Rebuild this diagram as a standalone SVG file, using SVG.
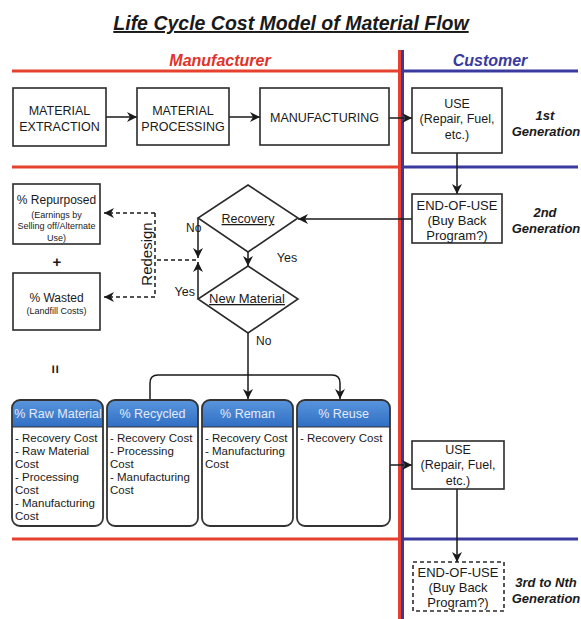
<svg xmlns="http://www.w3.org/2000/svg" width="581" height="619" viewBox="0 0 581 619">
<style>
text{font-family:"Liberation Sans",Arial,sans-serif;fill:#1a1a1a}
.bx{fill:#fff;stroke:#2b2b2b;stroke-width:1.6}
.dbx{fill:#fff;stroke:#2b2b2b;stroke-width:1.6;stroke-dasharray:4 3}
.c{fill:none;stroke:#1a1a1a;stroke-width:1.5}
.d{fill:none;stroke:#1a1a1a;stroke-width:1.5;stroke-dasharray:4 3}
.t{font-size:12.5px;text-anchor:middle}
.gen{font-size:13px;font-weight:bold;font-style:italic;text-anchor:middle}
.hd{font-size:12.5px;fill:#e4eaf8;text-anchor:middle}
.bd{font-size:11.5px}
.red{stroke:#e6402e;stroke-width:3}
.blue{stroke:#3a3a9e;stroke-width:3}
.card{fill:#fff;stroke:#333;stroke-width:1.8}
.hdr{fill:url(#hg)}
</style>
<defs>
<marker id="ah" markerUnits="userSpaceOnUse" markerWidth="10" markerHeight="10" refX="10" refY="5" orient="auto">
<path d="M0,0 L10,5 L0,10 L3,5 z" fill="#1a1a1a"/>
</marker>
<linearGradient id="hg" x1="0" y1="0" x2="0" y2="1">
<stop offset="0" stop-color="#5a95dc"/>
<stop offset="1" stop-color="#2f6fc4"/>
</linearGradient>
<clipPath id="cr"><rect x="13" y="401" width="89" height="26"/></clipPath>
</defs>

<g id="title">
<text x="291" y="30" style="font-size:19.5px;font-weight:bold;font-style:italic;text-decoration:underline" text-anchor="middle">Life Cycle Cost Model of Material Flow</text>
</g>

<g id="lanes">
<line class="red" x1="12" y1="71" x2="399" y2="71"/>
<line class="blue" x1="403" y1="71" x2="578" y2="71"/>
<line class="red" x1="12" y1="167" x2="399" y2="167"/>
<line class="blue" x1="403" y1="167" x2="578" y2="167"/>
<line class="red" x1="12" y1="539" x2="399" y2="539"/>
<line class="blue" x1="403" y1="539" x2="578" y2="539"/>
<line class="red" x1="399.5" y1="50" x2="399.5" y2="619"/>
<line class="blue" x1="402.5" y1="50" x2="402.5" y2="619"/>
<text x="220" y="66" style="font-size:16px;font-weight:bold;font-style:italic;fill:#e03328" text-anchor="middle">Manufacturer</text>
<text x="490" y="66" style="font-size:16px;font-weight:bold;font-style:italic;fill:#3a3a9e" text-anchor="middle">Customer</text>
</g>

<g id="connectors">
<line class="c" x1="106" y1="117" x2="137" y2="117" marker-end="url(#ah)"/>
<line class="c" x1="229" y1="117" x2="260" y2="117" marker-end="url(#ah)"/>
<line class="c" x1="389" y1="118" x2="412" y2="118" marker-end="url(#ah)"/>
<line class="c" x1="457" y1="153" x2="457" y2="194" marker-end="url(#ah)"/>
<line class="c" x1="412" y1="219" x2="298" y2="219" marker-end="url(#ah)"/>
<line class="c" x1="248" y1="252" x2="248" y2="266" marker-end="url(#ah)"/>
<line class="c" x1="198" y1="218" x2="198" y2="258" marker-end="url(#ah)"/>
<line class="c" x1="198" y1="299" x2="198" y2="262" marker-end="url(#ah)"/>
<path class="d" d="M196,260 H155"/>
<path class="d" d="M155,213 V297"/>
<path class="d" d="M155,213 H104" marker-end="url(#ah)"/>
<path class="d" d="M155,297 H104" marker-end="url(#ah)"/>
<line class="c" x1="248" y1="333" x2="248" y2="399" marker-end="url(#ah)"/>
<path class="c" d="M150,399 V383 Q150,375 158,375 H332 Q340,375 340,383 V399" marker-start="url(#ah)" marker-end="url(#ah)"/>
<line class="c" x1="390" y1="465" x2="412" y2="465" marker-end="url(#ah)"/>
<line class="c" x1="457" y1="489" x2="457" y2="562" marker-end="url(#ah)"/>
<text x="186" y="232" style="font-size:12px">No</text>
<text x="287" y="262" style="font-size:12.5px" text-anchor="middle">Yes</text>
<text x="195" y="296" style="font-size:12.5px" text-anchor="end">Yes</text>
<text x="256" y="345" style="font-size:12px">No</text>
<text x="0" y="0" transform="translate(152,254) rotate(-90)" style="font-size:15px" text-anchor="middle">Redesign</text>
</g>

<g id="extraction">
<rect class="bx" x="13" y="88" width="93" height="58"/>
<text class="t" x="59.5" y="115">MATERIAL</text>
<text class="t" x="59.5" y="131">EXTRACTION</text>
</g>
<g id="processing">
<rect class="bx" x="137" y="88" width="92" height="57"/>
<text class="t" x="183" y="115">MATERIAL</text>
<text class="t" x="183" y="131">PROCESSING</text>
</g>
<g id="manufacturing">
<rect class="bx" x="260" y="88" width="129" height="57"/>
<text class="t" x="324.5" y="122">MANUFACTURING</text>
</g>
<g id="use1">
<rect class="bx" x="412" y="88" width="90" height="65"/>
<text class="t" x="457" y="108">USE</text>
<text class="t" x="457" y="123">(Repair, Fuel,</text>
<text class="t" x="457" y="139">etc.)</text>
<text class="gen" x="545" y="120">1st</text>
<text class="gen" x="546" y="136">Generation</text>
</g>
<g id="eou1">
<rect class="bx" x="412" y="194" width="90" height="49"/>
<text class="t" x="457" y="210" style="font-size:13px">END-OF-USE</text>
<text class="t" x="457" y="225" style="font-size:13px">(Buy Back</text>
<text class="t" x="457" y="240" style="font-size:13px">Program?)</text>
<text class="gen" x="545" y="217">2nd</text>
<text class="gen" x="546" y="233">Generation</text>
</g>
<g id="recovery">
<polygon class="bx" points="248,185 298,218 248,252 198,218"/>
<text x="248" y="223" style="font-size:12.5px;text-decoration:underline" text-anchor="middle">Recovery</text>
</g>
<g id="newmaterial">
<polygon class="bx" points="248,266 298,299 248,333 198,299"/>
<text x="247" y="303" style="font-size:13px;text-decoration:underline" text-anchor="middle">New Material</text>
</g>
<g id="repurposed">
<rect class="bx" x="13" y="184" width="87" height="60"/>
<text x="56.5" y="204" style="font-size:12px" text-anchor="middle">% Repurposed</text>
<text x="56.5" y="218" style="font-size:9px" text-anchor="middle">(Earnings by</text>
<text x="56.5" y="229" style="font-size:9px" text-anchor="middle">Selling off/Alternate</text>
<text x="56.5" y="241" style="font-size:9px" text-anchor="middle">Use)</text>
</g>
<text x="57" y="267" style="font-size:15px;font-weight:bold" text-anchor="middle">+</text>
<g id="wasted">
<rect class="bx" x="13" y="273" width="87" height="57"/>
<text x="56.5" y="302" style="font-size:12px" text-anchor="middle">% Wasted</text>
<text x="56.5" y="314" style="font-size:9px" text-anchor="middle">(Landfill Costs)</text>
</g>
<text x="0" y="0" transform="translate(55,369) rotate(90)" style="font-size:15px;font-weight:bold" text-anchor="middle" dy="5">=</text>

<g id="raw">
<path class="hdr" d="M12,427 V408 Q12,400 20,400 H95 Q103,400 103,408 V427 Z"/>
<text class="hd" x="58" y="418" clip-path="url(#cr)">% Raw Material</text>
<line x1="12" y1="427" x2="103" y2="427" stroke="#333" stroke-width="1.2"/>
<rect class="card" x="12" y="400" width="91" height="126" rx="8" fill="none" style="fill:none"/>
<text class="bd" x="15" y="442">- Recovery Cost</text>
<text class="bd" x="15" y="455">- Raw Material</text>
<text class="bd" x="15" y="468">Cost</text>
<text class="bd" x="15" y="481">- Processing</text>
<text class="bd" x="15" y="494">Cost</text>
<text class="bd" x="15" y="507">- Manufacturing</text>
<text class="bd" x="15" y="520">Cost</text>
</g>
<g id="recycled">
<path class="hdr" d="M107,427 V408 Q107,400 115,400 H190 Q198,400 198,408 V427 Z"/>
<text class="hd" x="152.5" y="418">% Recycled</text>
<line x1="107" y1="427" x2="198" y2="427" stroke="#333" stroke-width="1.2"/>
<rect class="card" x="107" y="400" width="91" height="126" rx="8" style="fill:none"/>
<text class="bd" x="110" y="442">- Recovery Cost</text>
<text class="bd" x="110" y="455">- Processing</text>
<text class="bd" x="110" y="468">Cost</text>
<text class="bd" x="110" y="481">- Manufacturing</text>
<text class="bd" x="110" y="494">Cost</text>
</g>
<g id="reman">
<path class="hdr" d="M202,427 V408 Q202,400 210,400 H285 Q293,400 293,408 V427 Z"/>
<text class="hd" x="247.5" y="418">% Reman</text>
<line x1="202" y1="427" x2="293" y2="427" stroke="#333" stroke-width="1.2"/>
<rect class="card" x="202" y="400" width="91" height="126" rx="8" style="fill:none"/>
<text class="bd" x="205" y="442">- Recovery Cost</text>
<text class="bd" x="205" y="455">- Manufacturing</text>
<text class="bd" x="205" y="468">Cost</text>
</g>
<g id="reuse">
<path class="hdr" d="M297,427 V408 Q297,400 305,400 H382 Q390,400 390,408 V427 Z"/>
<text class="hd" x="343.5" y="418">% Reuse</text>
<line x1="297" y1="427" x2="390" y2="427" stroke="#333" stroke-width="1.2"/>
<rect class="card" x="297" y="400" width="93" height="126" rx="8" style="fill:none"/>
<text class="bd" x="300" y="442">- Recovery Cost</text>
</g>

<g id="use2">
<rect class="bx" x="412" y="441" width="92" height="48"/>
<text class="t" x="458" y="454">USE</text>
<text class="t" x="458" y="469">(Repair, Fuel,</text>
<text class="t" x="458" y="485">etc.)</text>
</g>
<g id="eou2">
<rect class="dbx" x="413" y="562" width="91" height="49"/>
<text class="t" x="458" y="577" style="font-size:13px">END-OF-USE</text>
<text class="t" x="458" y="592" style="font-size:13px">(Buy Back</text>
<text class="t" x="458" y="607" style="font-size:13px">Program?)</text>
<text class="gen" x="546" y="587">3rd to Nth</text>
<text class="gen" x="546" y="603">Generation</text>
</g>
</svg>
